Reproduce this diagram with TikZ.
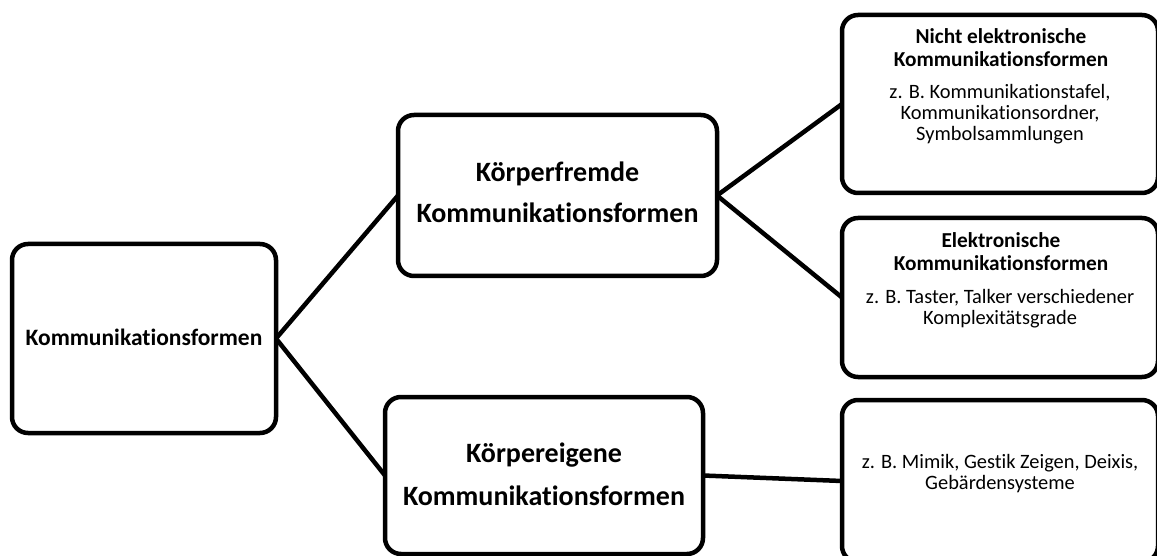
\documentclass[tikz,border=0pt]{standalone}
\usepackage{fontspec}
\setmainfont{Carlito}[Ligatures={NoCommon,NoContextual}]
\begin{document}
\begin{tikzpicture}[x=1pt,y=-1pt,
  box/.style={draw=black, line width=4.5pt, rounded corners=16pt, inner sep=0pt, outer sep=0pt, fill=white},
  link/.style={draw=black, line width=4.5pt},
  roottxt/.style={font=\fontsize{23.5}{28}\selectfont\bfseries, anchor=base, inner sep=0pt},
  midtxt/.style={font=\fontsize{28}{41}\selectfont\bfseries, align=center, anchor=base, inner sep=0pt},
  midtxtb/.style={font=\fontsize{28}{43}\selectfont\bfseries, align=center, anchor=base, inner sep=0pt},
  ttltxt/.style={font=\fontsize{21.3}{23}\selectfont\bfseries, align=center, anchor=base, inner sep=0pt},
  bodytxt/.style={font=\fontsize{20.4}{21}\selectfont, align=center, anchor=base, inner sep=0pt}
]
\useasboundingbox (0,0) rectangle (1157,556);
\fill[white] (0,0) rectangle (1157,556);

\node[box, minimum width=264pt, minimum height=189pt] (A) at (144,338.5) {};
\node[box, minimum width=319pt, minimum height=161pt] (B) at (557.5,195.5) {};
\node[box, minimum width=316pt, minimum height=178pt] (C) at (1000,104) {};
\node[box, minimum width=316pt, minimum height=159pt] (D) at (1000,297.5) {};
\node[box, minimum width=318pt, minimum height=157pt] (E) at (544,475.5) {};
\node[box, minimum width=316pt, minimum height=162pt] (F) at (1000,481) {};

\draw[link] (A.east) -- (B.west);
\draw[link] (A.east) -- (E.west);
\draw[link] (B.east) -- (C.west);
\draw[link] (B.east) -- (D.west);
\draw[link] (E.east) -- (F.west);

% multi-line nodes: anchor=base sits on the last line's baseline
\node[roottxt] (tA) at (144,345) {Kommunikationsformen};
\node[midtxt] (tB) at (557.5,223) {Körperfremde\\Kommunikationsformen};
\node[midtxtb] (tE) at (544,505) {Körpereigene\\Kommunikationsformen};
\node[ttltxt] (tC1) at (1001,67) {Nicht elektronische\\Kommunikationsformen};
\node[bodytxt] (tC2) at (1000,141) {z. B. Kommunikationstafel,\\Kommunikationsordner,\\Symbolsammlungen};
\node[ttltxt] (tD1) at (1001,271) {Elektronische\\Kommunikationsformen};
\node[bodytxt] (tD2) at (1000,324) {z. B. Taster, Talker verschiedener\\Komplexitätsgrade};
\node[bodytxt] (tF) at (1000,489) {z. B. Mimik, Gestik Zeigen, Deixis,\\Gebärdensysteme};
\end{tikzpicture}
\end{document}
